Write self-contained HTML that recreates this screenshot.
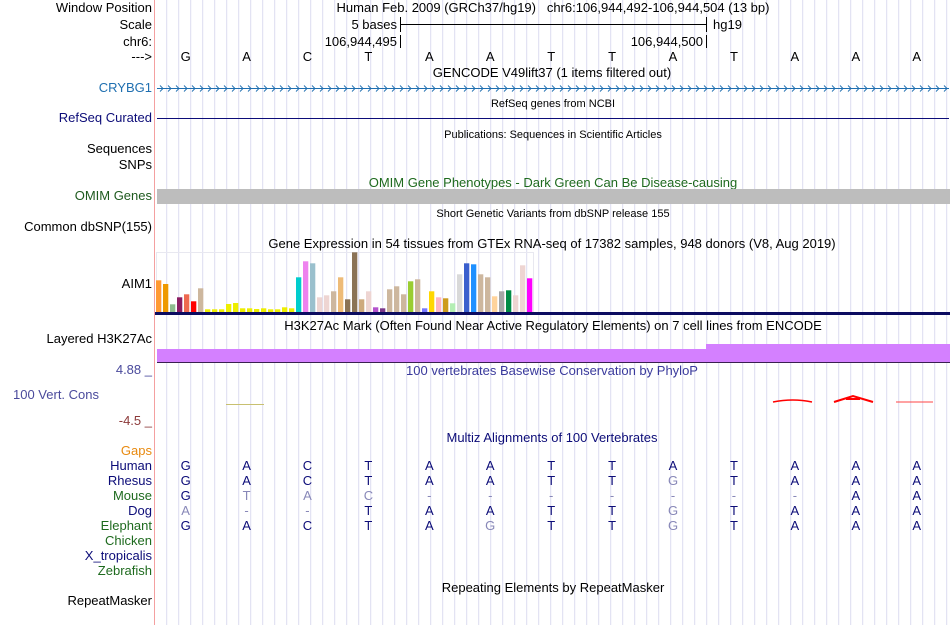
<!DOCTYPE html>
<html><head><meta charset="utf-8">
<style>
html,body{margin:0;padding:0;background:#fff;}
svg{display:block;font-family:"Liberation Sans",sans-serif;}
.lab{font-size:13px;text-anchor:end;}
.t{font-size:13px;text-anchor:middle;}
.s{font-size:11px;text-anchor:middle;}
.b{font-size:13px;text-anchor:middle;}
</style></head>
<body>
<svg id="chart" width="950" height="625" viewBox="0 0 950 625">
<g id="grid"></g>
<line x1="154.5" y1="0" x2="154.5" y2="625" stroke="#f4a0a0" stroke-width="1"/>

<g>
<text class="lab" x="152" y="12">Window Position</text>
<text class="lab" x="152" y="29">Scale</text>
<text class="lab" x="152" y="46">chr6:</text>
<text class="lab" x="152" y="61">---&gt;</text>
<text class="lab" x="152" y="92" fill="#1f6fb0">CRYBG1</text>
<text class="lab" x="152" y="122" fill="#0c0c78">RefSeq Curated</text>
<text class="lab" x="152" y="153">Sequences</text>
<text class="lab" x="152" y="169">SNPs</text>
<text class="lab" x="152" y="200" fill="#1e5a1e">OMIM Genes</text>
<text class="lab" x="152" y="231">Common dbSNP(155)</text>
<text class="lab" x="152" y="288">AIM1</text>
<text class="lab" x="152" y="343">Layered H3K27Ac</text>
<text class="lab" x="152" y="374" fill="#4a4a9c">4.88 _</text>
<text x="13" y="399" fill="#4a4a9c" font-size="13">100 Vert. Cons</text>
<text class="lab" x="152" y="425" fill="#8c3a3a">-4.5 _</text>
<text class="lab" x="152" y="455" fill="#e88a10">Gaps</text>
<text class="lab" x="152" y="470" fill="#0c0c78">Human</text>
<text class="lab" x="152" y="485" fill="#0c0c78">Rhesus</text>
<text class="lab" x="152" y="500" fill="#1e6a1e">Mouse</text>
<text class="lab" x="152" y="515" fill="#0c0c78">Dog</text>
<text class="lab" x="152" y="530" fill="#1e6a1e">Elephant</text>
<text class="lab" x="152" y="545" fill="#1e6a1e">Chicken</text>
<text class="lab" x="152" y="560" fill="#0c0c78">X_tropicalis</text>
<text class="lab" x="152" y="575" fill="#1e6a1e">Zebrafish</text>
<text class="lab" x="152" y="605">RepeatMasker</text>
</g>

<text class="t" x="553" y="12">Human Feb. 2009 (GRCh37/hg19)&#160;&#160;&#160;chr6:106,944,492-106,944,504 (13 bp)</text>
<g>
<line x1="400" y1="24.5" x2="706" y2="24.5" stroke="#000"/>
<line x1="400.5" y1="17" x2="400.5" y2="32" stroke="#000"/>
<line x1="706.5" y1="17" x2="706.5" y2="32" stroke="#000"/>
<text class="lab" x="397" y="29">5 bases</text>
<text x="713" y="29" font-size="13">hg19</text>
</g>
<g>
<text class="lab" x="397" y="46">106,944,495</text>
<line x1="400.5" y1="35" x2="400.5" y2="48" stroke="#000"/>
<text class="lab" x="703" y="46">106,944,500</text>
<line x1="706.5" y1="35" x2="706.5" y2="48" stroke="#000"/>
</g>
<g id="bases"></g>

<text class="t" x="552" y="77">GENCODE V49lift37 (1 items filtered out)</text>
<g id="gene"></g>
<text class="s" x="553" y="107">RefSeq genes from NCBI</text>
<line x1="157" y1="118.5" x2="949" y2="118.5" stroke="#0c0c78"/>
<text class="s" x="553" y="138">Publications: Sequences in Scientific Articles</text>
<text class="t" x="553" y="187" fill="#1e6a1e">OMIM Gene Phenotypes - Dark Green Can Be Disease-causing</text>
<rect x="157" y="189" width="793" height="15" fill="#bdbdbd"/>
<text class="s" x="553" y="217">Short Genetic Variants from dbSNP release 155</text>
<text class="t" x="552" y="248">Gene Expression in 54 tissues from GTEx RNA-seq of 17382 samples, 948 donors (V8, Aug 2019)</text>
<rect x="156.5" y="252.5" width="377" height="60" fill="none" stroke="#e8e8f0"/>
<g id="gtex"></g>
<rect x="155" y="312" width="795" height="3" fill="#0c0c60"/>

<text class="t" x="553" y="330">H3K27Ac Mark (Often Found Near Active Regulatory Elements) on 7 cell lines from ENCODE</text>
<rect x="157" y="349" width="549" height="13" fill="#d480ff"/>
<rect x="706" y="344" width="244" height="18" fill="#d480ff"/>
<line x1="157" y1="362.5" x2="950" y2="362.5" stroke="#3a2050"/>

<text class="t" x="552" y="375" fill="#3a3a9c">100 vertebrates Basewise Conservation by PhyloP</text>
<line x1="226" y1="404.5" x2="264" y2="404.5" stroke="#c8c070" stroke-width="1"/>
<path d="M773 402 Q793 398 812 402" stroke="#f00" stroke-width="1.5" fill="none"/>
<path d="M834 402 L853 396 L873 402 M846 399 L860 399" stroke="#f00" stroke-width="2" fill="none"/>
<line x1="896" y1="402" x2="933" y2="402" stroke="#f44" stroke-width="1"/>

<text class="t" x="552" y="442" fill="#0c0c78">Multiz Alignments of 100 Vertebrates</text>
<g id="aln"></g>
<text class="t" x="553" y="592">Repeating Elements by RepeatMasker</text>
</svg>
<script>
const baseSeq = ["G","A","C","T","A","A","T","T","A","T","A","A","A"];
const alnRows = [
 ["Human", "GACTAATTATAAA", "-------------"],
 ["Rhesus","GACTAATTGTAAA", "--------x----"],
 ["Mouse", "GTAC-------AA", "-xxxxxxxxxx--"],
 ["Dog",   "A--TAATTGTAAA", "xxx-----x----"],
 ["Elephant","GACTAGTTGTAAA","-----x--x----"]
];
const gtexValues = [95,84,23,44,53,32,71,8,8,8,24,27,11,11,9,11,8,8,14,11,104,152,146,44,50,62,104,38,179,38,62,14,11,68,77,53,92,98,11,62,44,41,26,113,146,143,113,104,47,62,65,50,140,101];
const gtexColors = ["#FF9933","#EE9900","#8FBC8F","#8B1C62","#EE6A50","#FF0000","#CDB79E","#EEEE00","#EEEE00","#EEEE00","#EEEE00","#EEEE00","#EEEE00","#EEEE00","#EEEE00","#EEEE00","#EEEE00","#EEEE00","#EEEE00","#EEEE00","#00CDCD","#EE82EE","#9AC0CD","#EED5D2","#EED5D2","#CDB79E","#EEBB77","#8B7355","#8B7355","#CDAA7D","#EED5D2","#B452CD","#7A378B","#CDB79E","#CDB79E","#CDB79E","#9ACD32","#CDB79E","#7777FF","#FFD700","#FFB6C1","#CD9B1D","#B4EEB4","#D9D9D9","#3A5FCD","#1E90FF","#CDB79E","#CDB79E","#FFD39B","#A6A6A6","#008B45","#EED5D2","#EED5D2","#FF00FF"];
const NS="http://www.w3.org/2000/svg";
function mk(tag,attrs,parent){const e=document.createElementNS(NS,tag);for(const k in attrs)e.setAttribute(k,attrs[k]);parent.appendChild(e);return e;}
const x0=157, bw=(949-157)/13;
const bx=i=>x0+bw*(i+0.47);
const grid=document.getElementById('grid');
for(let x=166.7;x<950;x+=12){const l=mk('line',{x1:x.toFixed(1),y1:0,x2:x.toFixed(1),y2:625,stroke:'#dcdcf0','stroke-width':1},grid);

}
const bg=document.getElementById('bases');
baseSeq.forEach((b,i)=>{const t=mk('text',{x:bx(i),y:61,class:'b'},bg);t.textContent=b;

});
const g=document.getElementById('gene');
mk('line',{x1:157,y1:88.5,x2:949,y2:88.5,stroke:'#1f6fb0'},g);
let d='';for(let x=160;x<946;x+=8){d+=`M${x.toFixed(1)} 85.5 L${(x+3).toFixed(1)} 88.5 L${x.toFixed(1)} 91.5 `;}
mk('path',{d:d,stroke:'#1f6fb0',fill:'none','stroke-width':0.9},g);
const gt=document.getElementById('gtex');
const yBase=312, hScale=v=>v*60/180;
gtexValues.forEach((v,i)=>{const h=hScale(v);const r=mk('rect',{x:(156+i*7).toFixed(1),y:(yBase-h).toFixed(1),width:5.3,height:h.toFixed(1),fill:gtexColors[i]},gt);

});
const al=document.getElementById('aln');
alnRows.forEach((row,r)=>{const y=470+r*15;for(let i=0;i<13;i++){const ch=row[1][i];const grey=row[2][i]==='x';
const t=mk('text',{x:bx(i),y:y,class:'b',fill:grey?'#8888b8':'#0c0c78'},al);t.textContent=ch;

}});
</script>
</body></html>
